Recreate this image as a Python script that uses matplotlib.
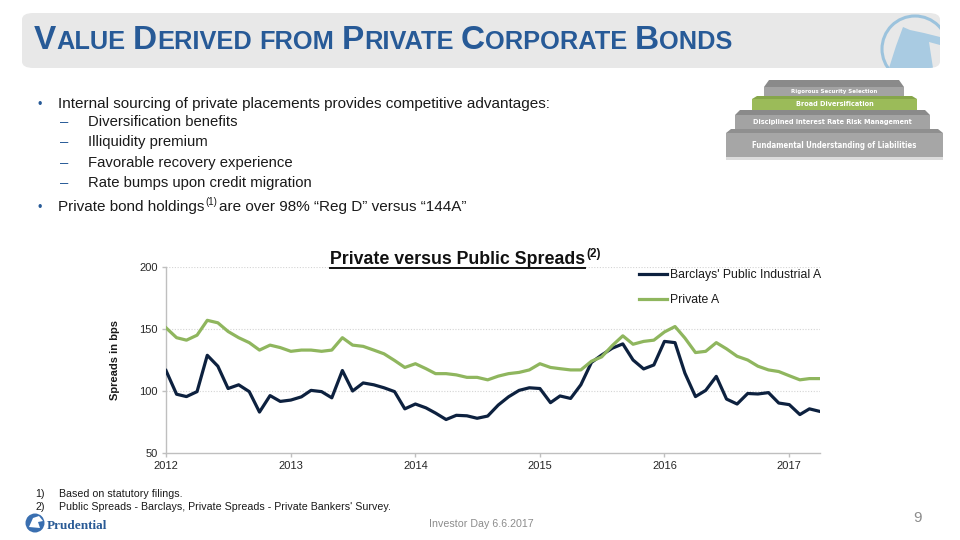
import matplotlib
matplotlib.use("Agg")
import matplotlib.pyplot as plt
import matplotlib.dates as mdates
from matplotlib.patches import FancyBboxPatch, Polygon, Rectangle, Ellipse
from matplotlib.lines import Line2D
import pandas as pd

# ---------------- data ----------------
months = pd.date_range("2012-01-01", periods=64, freq="MS")
public_a = [116.5, 97.4, 95.5, 99.5, 128.8, 120, 102, 105, 99.5, 83, 96.3, 91.6,
            92.7, 95.3, 100.5, 99.5, 94.5, 116.5, 100, 106.5, 105, 102.6, 99.5, 85.6,
            89.5, 86.4, 82.2, 77, 80.4, 80, 78, 79.8, 88.7, 95.3, 100.5, 102.6,
            102, 90.6, 96, 94, 105, 123, 129, 134.5, 138, 125, 117.8, 121,
            140, 139, 114.4, 95.5, 100.5, 111.8, 93.5, 89.5, 98, 97.6, 98.7, 90.3,
            89, 81, 85.6, 83.5]
private_a = [151, 143, 141, 145, 157, 155, 148, 143, 139, 133, 137, 135,
             132, 133, 133, 132, 133, 143, 137, 136, 133, 130, 124.6, 119,
             122, 118, 114, 114, 113, 111, 111, 109, 112, 114, 115, 117,
             122, 119, 118, 117, 117, 124, 127.5, 136.6, 144.5, 137.7, 140, 141,
             147.6, 152, 142.7, 131, 132, 139, 134, 128, 125, 120, 117, 115.7,
             112.3, 109, 110, 110]
series_names = ["Barclays' Public Industrial A", "Private A"]
y_ticks = [50, 100, 150, 200]
year_ticks = pd.date_range("2012-01-01", periods=6, freq="YS")

title_pieces = [("V", 1), ("ALUE", 0), ("D", 1), ("ERIVED", 0), ("FROM", 0),
                ("P", 1), ("RIVATE", 0), ("C", 1), ("ORPORATE", 0), ("B", 1), ("ONDS", 0)]
bullets = ["Internal sourcing of private placements provides competitive advantages:"]
sub_bullets = ["Diversification benefits", "Illiquidity premium",
               "Favorable recovery experience", "Rate bumps upon credit migration"]
pyramid_labels = ["Rigorous Security Selection", "Broad Diversification",
                  "Disciplined Interest Rate Risk Management",
                  "Fundamental Understanding of Liabilities"]
footnotes = ["Based on statutory filings.",
             "Public Spreads - Barclays, Private Spreads - Private Bankers' Survey."]

# ---------------- style ----------------
BLUE = "#275a97"
DARK = "#0d213f"
GREEN = "#8fb65e"
FONT = ["Liberation Sans", "DejaVu Sans"]
CONDENSED = ["DejaVu Sans", "Liberation Sans"]
plt.rcParams["font.family"] = FONT

W, H = 960, 540
fig = plt.figure(figsize=(9.6, 5.4), dpi=100)
fig.patch.set_facecolor("white")
renderer = fig.canvas.get_renderer()


def fx(x):
    return x / W


def fy(y):
    return 1 - y / H


def width_px(t):
    return t.get_window_extent(renderer).width


# ---------------- banner ----------------
banner = FancyBboxPatch((fx(22), fy(68)), fx(940) - fx(22), fy(13) - fy(68),
                        boxstyle="round,pad=0,rounding_size=0.012",
                        transform=fig.transFigure, facecolor="#e8e8e8",
                        edgecolor="none", zorder=0)
fig.patches.append(banner)

# logo in the banner (clipped)
circ = Ellipse((fx(915), fy(49)), 2 * 33 / W, 2 * 33 / H, transform=fig.transFigure,
               fill=False, edgecolor="#9cc3dd", lw=2.2, zorder=1)
fig.patches.append(circ)
circ.set_clip_path(banner)
mountain = Polygon([(fx(889), fy(68)), (fx(896), fy(46)), (fx(903), fy(27)),
                    (fx(910), fy(30)), (fx(924), fy(33)), (fx(940), fy(37)),
                    (fx(940), fy(45)), (fx(929), fy(42)), (fx(933), fy(68))],
                   closed=True, transform=fig.transFigure, facecolor="#a9cbe2",
                   edgecolor="none", zorder=1)
fig.patches.append(mountain)
mountain.set_clip_path(banner)


# ---------------- title (small caps) ----------------
def layout_title(scale):
    texts = []
    x = 34
    big, small = 21 * scale, 16 * scale
    for i, (s, isbig) in enumerate(title_pieces):
        size = big if isbig else small
        if i > 0 and (isbig or s == "FROM"):
            x += 0.28 * small * 100 / 72
        t = fig.text(fx(x), fy(49), s, fontsize=size, fontweight="bold",
                     color=BLUE, ha="left", va="baseline", family=FONT)
        x += width_px(t) + (0.5 if isbig else 0)
        texts.append(t)
    return texts, x


texts, xend = layout_title(1.0)
sc = (735 - 34) / (xend - 34)
for t in texts:
    t.remove()
layout_title(sc)

# ---------------- bullets ----------------
fig.text(fx(37), fy(108), "\u2022", color=BLUE, fontsize=9, va="baseline")
fig.text(fx(58), fy(108), bullets[0], fontsize=11, color="#1a1a1a", va="baseline")
for i, s in enumerate(sub_bullets):
    yb = 126 + i * 20.3
    fig.text(fx(60), fy(yb), "\u2013", color=BLUE, fontsize=10.7, va="baseline")
    fig.text(fx(88), fy(yb), s, fontsize=10.7, color="#1a1a1a", va="baseline")
fig.text(fx(37), fy(211), "\u2022", color=BLUE, fontsize=9, va="baseline")
t1 = fig.text(fx(58), fy(211), "Private bond holdings", fontsize=11,
              color="#1a1a1a", va="baseline")
x1 = 58 + width_px(t1) + 1
t2 = fig.text(fx(x1), fy(205), "(1)", fontsize=7, color="#1a1a1a", va="baseline")
x2 = x1 + width_px(t2) + 2
fig.text(fx(x2), fy(211), "are over 98% \u201cReg D\u201d versus \u201c144A\u201d",
         fontsize=11, color="#1a1a1a", va="baseline")

# ---------------- pyramid ----------------
steps = [
    (764, 904, 80, 87, 96, "#a3a3a3", "#8a8a8a", 87),
    (752, 917, 96, 99, 110, "#9bbb59", "#86a64a", 78),
    (735, 930, 110, 115, 129, "#a3a3a3", "#8a8a8a", 160),
    (726, 943, 129, 133, 157, "#a6a6a6", "#8f8f8f", 164),
]
for (x0, x1, bt, ft, fb, fc, bc, tw), lab in zip(steps, pyramid_labels):
    bev = Polygon([(fx(x0), fy(ft)), (fx(x1), fy(ft)), (fx(x1 - 5), fy(bt)),
                   (fx(x0 + 5), fy(bt))], closed=True, transform=fig.transFigure,
                  facecolor=bc, edgecolor="none", zorder=2)
    fig.patches.append(bev)
    front = Rectangle((fx(x0), fy(fb)), fx(x1) - fx(x0), fy(ft) - fy(fb),
                      transform=fig.transFigure, facecolor=fc, edgecolor="none",
                      zorder=2)
    fig.patches.append(front)
    cy = (ft + fb) / 2
    t = fig.text(fx((x0 + x1) / 2), fy(cy), lab, fontsize=7, fontweight="bold",
                 color="white", ha="center", va="center", family=CONDENSED,
                 fontstretch="condensed", zorder=3)
    wpx = width_px(t)
    t.set_fontsize(7 * tw / wpx)
shadow = Rectangle((fx(726), fy(160)), fx(943) - fx(726), fy(157) - fy(160),
                   transform=fig.transFigure, facecolor="#dcdcdc", edgecolor="none")
fig.patches.append(shadow)

# ---------------- chart ----------------
ax = fig.add_axes([fx(166), fy(453), fx(820) - fx(166), fy(267) - fy(453)])
ax.plot(months, public_a, color=DARK, lw=2.3, label=series_names[0],
        solid_joinstyle="round", zorder=3)
ax.plot(months, private_a, color=GREEN, lw=2.3, label=series_names[1],
        solid_joinstyle="round", zorder=3)
ax.set_xlim(months[0], months[-1])
ax.set_ylim(50, 200)
ax.set_yticks(y_ticks)
ax.set_xticks(year_ticks)
ax.xaxis.set_major_formatter(mdates.DateFormatter("%Y"))
for v in y_ticks[1:]:
    ax.axhline(v, color="#d4d4d4", lw=0.8, ls=(0, (1, 1.5)), zorder=1)
for side in ["top", "right"]:
    ax.spines[side].set_visible(False)
for side in ["left", "bottom"]:
    ax.spines[side].set_color("#bfbfbf")
    ax.spines[side].set_linewidth(1.0)
ax.tick_params(axis="both", labelsize=8, colors="#bfbfbf", labelcolor="#262626",
               length=3, width=1.0, pad=3)
ax.set_ylabel("Spreads in bps", fontsize=8, fontweight="bold", color="#1a1a1a")
ax.yaxis.set_label_coords(-0.07, 0.5)
ax.set_facecolor("none")
leg = ax.legend(loc="upper right", bbox_to_anchor=(1.005, 1.0), frameon=False,
                fontsize=8.8, handlelength=2.3, handletextpad=0.2,
                labelspacing=1.05, borderpad=0.2, borderaxespad=0.0)
for txt in leg.get_texts():
    txt.set_color("#1a1a1a")

# chart title
ct = fig.text(fx(330), fy(264), "Private versus Public Spreads", fontsize=12,
              fontweight="bold", color="#111111", ha="left", va="baseline")
cw = width_px(ct)
ct.set_fontsize(12 * 254 / cw)
cw = width_px(ct)
fig.add_artist(Line2D([fx(330), fx(330 + cw)], [fy(267.5), fy(267.5)],
                      transform=fig.transFigure, color="#111111", lw=1.4))
fig.text(fx(330 + cw + 1), fy(257), "(2)", fontsize=8.5, fontweight="bold",
         color="#111111", ha="left", va="baseline")

# ---------------- footnotes / footer ----------------
for i, s in enumerate(footnotes):
    yb = 497 + i * 12.5
    fig.text(fx(35), fy(yb), f"{i + 1})", fontsize=7.7, color="#1a1a1a", va="baseline")
    fig.text(fx(59), fy(yb), s, fontsize=7.7, color="#1a1a1a", va="baseline")
fig.text(fx(481), fy(527), "Investor Day 6.6.2017", fontsize=7.7, color="#8c8c8c",
         ha="center", va="baseline")
fig.text(fx(917), fy(522), "9", fontsize=11, color="#8c8c8c", ha="center",
         va="baseline")

# Prudential logo
logo = Ellipse((fx(35), fy(523)), 19 / W, 19 / H, transform=fig.transFigure,
               facecolor="#3a6fb0", edgecolor="none")
fig.patches.append(logo)
rock = Polygon([(fx(29), fy(527)), (fx(33), fy(518)), (fx(39), fy(516)),
                (fx(43), fy(521)), (fx(38), fy(522)), (fx(40), fy(528))],
               closed=True, transform=fig.transFigure, facecolor="white",
               edgecolor="none")
fig.patches.append(rock)
fig.text(fx(47), fy(529), "Prudential", fontsize=9.5, fontweight="bold",
         color="#2a5b96", family=["Liberation Serif", "DejaVu Serif"],
         ha="left", va="baseline")

fig.savefig("out.png", dpi=100)
